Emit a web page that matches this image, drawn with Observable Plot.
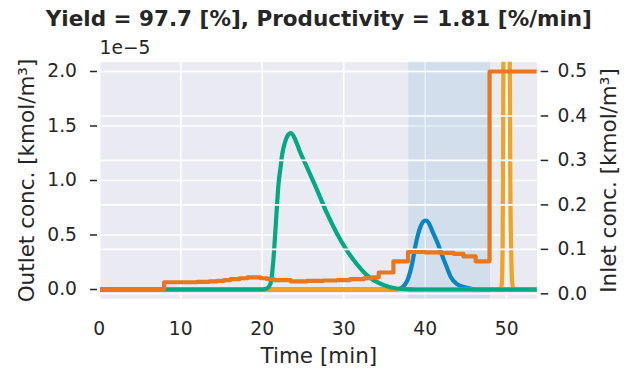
<!DOCTYPE html>
<html><head><meta charset="utf-8">
<script src="https://cdn.jsdelivr.net/npm/d3@7"></script>
<script src="https://cdn.jsdelivr.net/npm/@observablehq/plot@0.6"></script>
<style>html,body{margin:0;padding:0;background:#fff} svg{display:block}</style>
</head><body><div id="chart"></div>
<script>
// ---- text ----
const titleText = "Yield = 97.7 [%], Productivity = 1.81 [%/min]";
const xLabel = "Time [min]";
const yLeftLabel = "Outlet conc. [kmol/m³]";
const yRightLabel = "Inlet conc. [kmol/m³]";
const offsetText = "1e−5";

// ---- ticks ----
const xTicks = [0, 10, 20, 30, 40, 50];
const leftTicks = [0, 0.5, 1.0, 1.5, 2.0];          // ×1e-5
const rightTicks = [0, 0.1, 0.2, 0.3, 0.4, 0.5];

// ---- fractionation window [min] ----
const fractionWindow = [38.0, 48.0];

// ---- outlet component 1 (green), ×1e-5 kmol/m3 ----
const tGreen = [0, 20.0, 20.6, 21.0, 21.2, 21.4, 21.6, 21.8, 22.0, 22.25, 22.45, 22.75, 23.1, 23.5, 23.97, 24.3, 24.5, 25.5, 26.75, 27.97, 29.2, 30.4, 31.65, 32.9, 34.1, 35.7, 37.4, 39.0, 53.8];
const cGreen = [0, 0, 0.01, 0.05, 0.14, 0.30, 0.52, 0.755, 0.97, 1.12, 1.24, 1.34, 1.41, 1.434, 1.39, 1.33, 1.29, 1.12, 0.91, 0.695, 0.51, 0.357, 0.229, 0.128, 0.067, 0.021, 0.003, 0, 0];

// ---- outlet component 2 (blue), ×1e-5 kmol/m3 ----
const tBlue = [0, 36.5, 37.2, 37.8, 38.4, 38.8, 39.4, 39.8, 40.1, 40.45, 40.85, 41.5, 42.3, 42.7, 43.1, 43.9, 45.1, 46.5, 53.8];
const cBlue = [0, 0, 0.02, 0.08, 0.236, 0.40, 0.57, 0.625, 0.633, 0.61, 0.54, 0.43, 0.27, 0.195, 0.12, 0.05, 0.015, 0, 0];

// ---- outlet component 3 (yellow), ×1e-5 kmol/m3 ----
const tYellow = [0, 49.25, 49.4, 49.5, 49.55, 49.6, 49.7, 50.0, 50.3, 50.38, 50.45, 50.55, 50.7, 50.9, 53.8];
const cYellow = [0, 0, 0.05, 0.4, 1.0, 2.2, 5.0, 8.0, 5.0, 2.2, 1.0, 0.4, 0.05, 0, 0];

// ---- inlet concentration (orange), kmol/m3 (right axis) ----
const tInlet = [0, 7.96, 10.0, 12.0, 13.5, 14.5, 15.3, 16.1, 17.2, 18.2, 19.8, 20.6, 21.4, 23.5, 25.5, 27.5, 29.2, 30.8, 32.5, 33.5, 34.3, 36.1, 37.9, 40.0, 42.0, 43.5, 44.7, 46.2, 47.9, 53.8];
const cInlet = [0.010, 0.026, 0.026, 0.027, 0.028, 0.029, 0.031, 0.033, 0.035, 0.037, 0.035, 0.033, 0.031, 0.028, 0.029, 0.030, 0.031, 0.033, 0.035, 0.037, 0.048, 0.073, 0.094, 0.093, 0.092, 0.090, 0.084, 0.073, 0.5, 0.5];

// ---- layout ----
const W = 632, H = 370;
const mL = 100, mR = 95.3, mT = 61.7, mB = 71.7;
const xDomain = [0.15, 53.75];
const yLeftDomain = [-0.0853, 2.0853];
const yRightDomain = [-0.0112, 0.5209];

const yL = d3.scaleLinear(yLeftDomain, [H - mB, mT]);
const yR = d3.scaleLinear(yRightDomain, [H - mB, mT]);
const toLeft = v => yL.invert(yR(v));
const toRight = u => yR.invert(yL(u));

const rows = (ts, cs) => ts.map((t, i) => ({t, c: cs[i]}));
const green = rows(tGreen, cGreen);
const blue = rows(tBlue, cBlue);
const yellow = rows(tYellow, cYellow);
const inlet = tInlet.map((t, i) => ({t, c: toLeft(cInlet[i])}));
const rightTicksL = rightTicks.map(toLeft);

const ink = "#262626";
const fs = 18.7, fsL = 21.5, lw = 4.2;

const chart = Plot.plot({
  width: W, height: H,
  marginLeft: mL, marginRight: mR, marginTop: mT, marginBottom: mB,
  x: {domain: xDomain},
  y: {domain: yLeftDomain},
  style: {fontFamily: "DejaVu Sans", color: ink, background: "white", overflow: "visible"},
  marks: [
    Plot.frame({fill: "#EAEAF2", stroke: "none"}),
    Plot.ruleX(xTicks.filter(d => d > xDomain[0]), {x: d => d, stroke: "white", strokeWidth: 1.6}),
    Plot.ruleY(leftTicks, {y: d => d, stroke: "white", strokeWidth: 1.6}),
    Plot.rect([fractionWindow], {x1: d => d[0], x2: d => d[1], fill: "#0173B2", fillOpacity: 0.1}),
    Plot.line(blue, {x: "t", y: "c", stroke: "#0a84c4", strokeWidth: lw, curve: "monotone-x", clip: true}),
    Plot.line(yellow, {x: "t", y: "c", stroke: "#eea425", strokeWidth: lw, curve: "monotone-x", clip: true}),
    Plot.line(green, {x: "t", y: "c", stroke: "#04a883", strokeWidth: lw, curve: "monotone-x", clip: true}),
    Plot.ruleY(rightTicksL, {y: d => d, stroke: "white", strokeWidth: 1.6}),
    Plot.line(inlet, {x: "t", y: "c", stroke: "#e8771f", strokeWidth: lw, curve: "step-after", clip: true}),
    // axes: tick marks
    Plot.axisY(leftTicks, {anchor: "left", tickSize: 7, dx: -3, fill: null, stroke: ink, strokeWidth: 1.5, label: null}),
    Plot.axisY(rightTicksL, {anchor: "right", tickSize: 7.5, dx: 3, fill: null, stroke: ink, strokeWidth: 1.5, label: null}),
    // axes: tick labels
    Plot.axisY(leftTicks, {anchor: "left", tickSize: 0, tickPadding: 23.5, fontSize: fs, fill: ink, label: null, tickFormat: d => d.toFixed(1)}),
    Plot.axisY(rightTicksL, {anchor: "right", tickSize: 0, tickPadding: 20.3, fontSize: fs, fill: ink, label: null, tickFormat: d => (Math.round(toRight(d) * 10) / 10 + 0).toFixed(1)}),
    Plot.axisX(xTicks, {anchor: "bottom", tickSize: 0, tickPadding: 23.4, fontSize: fs, fill: ink, label: null, tickFormat: d => String(d)}),
    // labels
    Plot.text([titleText], {text: d => d, frameAnchor: "top", dy: -43.4, fontSize: fsL, fontWeight: "bold", lineAnchor: "middle", fill: ink}),
    Plot.text([offsetText], {text: d => d, frameAnchor: "top-left", textAnchor: "start", dx: -1, dy: -14, fontSize: fs, lineAnchor: "middle", fill: ink}),
    Plot.text([xLabel], {text: d => d, frameAnchor: "bottom", dy: 57.7, fontSize: fsL, lineAnchor: "middle", fill: ink}),
    Plot.text([yLeftLabel], {text: d => d, frameAnchor: "left", dx: -73, rotate: -90, textAnchor: "middle", fontSize: fsL, lineAnchor: "middle", fill: ink}),
    Plot.text([yRightLabel], {text: d => d, frameAnchor: "right", dx: 71.5, rotate: -90, textAnchor: "middle", fontSize: fsL, lineAnchor: "middle", fill: ink})
  ]
});
document.getElementById("chart").appendChild(chart);
</script>
</body></html>
